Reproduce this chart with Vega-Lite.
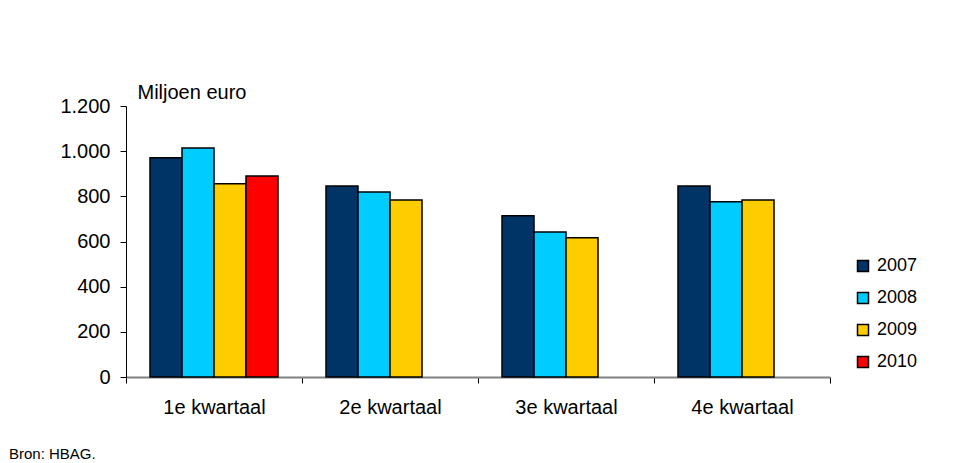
{
  "$schema": "https://vega.github.io/schema/vega-lite/v6.json",
  "width": 704,
  "height": 271,
  "autosize": {"type": "none"},
  "padding": {"left": 126, "top": 106, "right": 127, "bottom": 86},
  "background": "white",
  "config": {
    "view": {"stroke": null},
    "font": "Liberation Sans"
  },
  "title": {
    "text": "Bron: HBAG.",
    "orient": "bottom",
    "anchor": "start",
    "frame": "group",
    "dx": -117,
    "fontSize": 15,
    "fontWeight": "normal",
    "color": "#000000",
    "offset": 30
  },
  "data": {
    "values": [
      {"kwartaal": "1e kwartaal", "jaar": "2007", "waarde": 971},
      {"kwartaal": "1e kwartaal", "jaar": "2008", "waarde": 1014},
      {"kwartaal": "1e kwartaal", "jaar": "2009", "waarde": 856},
      {"kwartaal": "1e kwartaal", "jaar": "2010", "waarde": 890},
      {"kwartaal": "2e kwartaal", "jaar": "2007", "waarde": 846},
      {"kwartaal": "2e kwartaal", "jaar": "2008", "waarde": 819},
      {"kwartaal": "2e kwartaal", "jaar": "2009", "waarde": 784},
      {"kwartaal": "3e kwartaal", "jaar": "2007", "waarde": 714},
      {"kwartaal": "3e kwartaal", "jaar": "2008", "waarde": 642},
      {"kwartaal": "3e kwartaal", "jaar": "2009", "waarde": 617},
      {"kwartaal": "4e kwartaal", "jaar": "2007", "waarde": 846},
      {"kwartaal": "4e kwartaal", "jaar": "2008", "waarde": 776},
      {"kwartaal": "4e kwartaal", "jaar": "2009", "waarde": 784}
    ]
  },
  "mark": {"type": "bar", "stroke": "#000000", "strokeWidth": 1.5},
  "encoding": {
    "x": {
      "field": "kwartaal",
      "type": "nominal",
      "scale": {"paddingInner": 0, "paddingOuter": 0},
      "axis": {
        "title": null,
        "labelAngle": 0,
        "labelFontSize": 20,
        "labelColor": "#000000",
        "labelPadding": 14,
        "domainColor": "#808080",
        "domainWidth": 2,
        "tickBand": "extent",
        "tickColor": "#000000",
        "tickSize": 6,
        "tickWidth": 1
      }
    },
    "xOffset": {
      "field": "jaar",
      "type": "nominal",
      "scale": {"paddingInner": 0, "paddingOuter": 0.75}
    },
    "y": {
      "field": "waarde",
      "type": "quantitative",
      "scale": {"domain": [0, 1200]},
      "axis": {
        "values": [0, 200, 400, 600, 800, 1000, 1200],
        "labelExpr": "replace(format(datum.value, ','), ',', '.')",
        "grid": false,
        "title": "Miljoen euro",
        "titleAngle": 0,
        "titleAlign": "left",
        "titleBaseline": "alphabetic",
        "titleX": 11,
        "titleY": -8,
        "titleFontSize": 20,
        "titleFontWeight": "normal",
        "titleColor": "#000000",
        "labelFontSize": 20,
        "labelColor": "#000000",
        "labelPadding": 10,
        "domainColor": "#000000",
        "domainWidth": 1,
        "tickColor": "#000000",
        "tickSize": 6
      }
    },
    "color": {
      "field": "jaar",
      "type": "nominal",
      "scale": {
        "domain": ["2007", "2008", "2009", "2010"],
        "range": ["#003366", "#00CCFF", "#FFCC00", "#FF0000"]
      },
      "legend": {
        "title": null,
        "orient": "none",
        "legendX": 728,
        "legendY": 151,
        "symbolType": "square",
        "symbolSize": 121,
        "symbolStrokeColor": "#000000",
        "symbolStrokeWidth": 1.5,
        "labelFontSize": 18,
        "labelColor": "#000000",
        "labelOffset": 5,
        "rowPadding": 14
      }
    }
  }
}
